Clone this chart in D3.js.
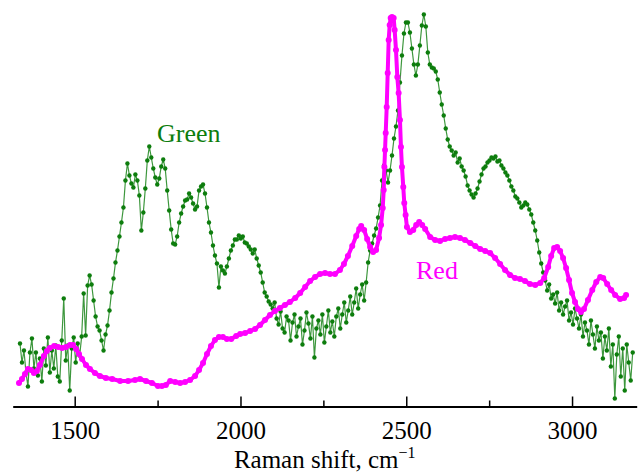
<!DOCTYPE html>
<html>
<head>
<meta charset="utf-8">
<script src="https://cdn.jsdelivr.net/npm/d3@7"></script>
<style>
  html, body { margin: 0; padding: 0; background: #fff; }
  svg { display: block; }
  svg text { font-family: 'Liberation Serif', 'Times New Roman', Times, 'DejaVu Serif', serif !important; }
</style>
</head>
<body>
<div id="chart"></div>
<script>
// ---------------- data ----------------
const majorTicks = [1500, 2000, 2500, 3000];
const minorTicks = [1750, 2250, 2750];
const xTitle = "Raman shift, cm";
const xTitleSup = "\u22121";
const seriesLabels = ["Green", "Red"];

const greenShift = [
1335,1341,1347,1353,1359,1365,1371,1377,1383,1389,
1395,1401,1407,1413,1419,1425,1431,1437,1443,1449,
1455,1461,1467,1473,1479,1485,1491,1497,1503,1509,
1515,1521,1527,1533,1539,1545,1551,1557,1563,1569,
1575,1581,1587,1593,1599,1605,1611,1617,1623,1629,
1635,1641,1647,1653,1659,1665,1671,1677,1683,1689,
1695,1701,1707,1713,1719,1725,1731,1737,1743,1749,
1755,1761,1767,1773,1779,1785,1791,1797,1803,1809,
1815,1821,1827,1833,1839,1845,1851,1857,1863,1869,
1875,1881,1887,1893,1899,1905,1911,1917,1923,1929,
1935,1941,1947,1953,1959,1965,1971,1977,1983,1989,
1995,2001,2007,2013,2019,2025,2031,2037,2043,2049,
2055,2061,2067,2073,2079,2085,2091,2097,2103,2109,
2115,2121,2127,2133,2139,2145,2151,2157,2163,2169,
2175,2181,2187,2193,2199,2205,2211,2217,2223,2229,
2235,2241,2247,2253,2259,2265,2271,2277,2283,2289,
2295,2301,2307,2313,2319,2325,2331,2337,2343,2349,
2355,2361,2367,2373,2379,2385,2391,2397,2403,2409,
2415,2421,2427,2433,2439,2445,2451,2457,2463,2469,
2475,2481,2487,2493,2499,2505,2511,2517,2523,2529,
2535,2541,2547,2553,2559,2565,2571,2577,2583,2589,
2595,2601,2607,2613,2619,2625,2631,2637,2643,2649,
2655,2661,2667,2673,2679,2685,2691,2697,2703,2709,
2715,2721,2727,2733,2739,2745,2751,2757,2763,2769,
2775,2781,2787,2793,2799,2805,2811,2817,2823,2829,
2835,2841,2847,2853,2859,2865,2871,2877,2883,2889,
2895,2901,2907,2913,2919,2925,2931,2937,2943,2949,
2955,2961,2967,2973,2979,2985,2991,2997,3003,3009,
3015,3021,3027,3033,3039,3045,3051,3057,3063,3069,
3075,3081,3087,3093,3099,3105,3111,3117,3123,3129,
3135,3141,3147,3153,3159,3165,3171,3177,3183
];
const greenIntensity = [
63,44,56,34,20,54,68,38,54,31,
48,25,58,41,69,34,56,38,61,30,
25,66,108,46,61,16,58,69,44,63,
51,70,113,71,121,131,122,106,90,80,
76,66,56,72,81,96,114,128,144,156,
170,184,199,226,243,231,223,219,232,226,
211,176,194,218,246,260,249,238,229,222,
228,240,247,238,216,196,177,163,162,170,
184,193,200,206,207,213,209,203,197,200,
216,220,222,213,199,184,174,161,151,143,
119,140,136,133,140,148,156,161,167,167,
171,168,170,164,163,160,157,153,157,148,
141,134,124,114,110,105,102,98,104,88,
82,95,78,74,90,86,66,84,92,70,
80,88,62,76,94,83,68,90,49,78,
86,72,92,64,80,96,74,85,70,90,
98,78,92,104,84,96,110,92,104,118,
98,112,122,106,124,144,156,163,171,178,
189,201,226,241,236,224,236,251,268,280,
296,324,351,373,384,384,374,358,342,331,
342,361,381,392,380,354,342,339,338,335,
327,314,302,291,278,267,260,256,251,254,
244,248,240,236,230,221,216,212,209,213,
218,225,232,238,240,244,246,249,248,250,
245,246,241,238,234,231,226,220,216,210,
208,204,199,201,204,202,197,192,184,176,
166,154,143,134,126,116,122,108,112,103,
114,96,104,92,100,106,86,94,82,98,
88,78,92,70,84,76,62,86,72,58,
80,66,74,48,70,56,78,40,62,8,
52,70,30,58,16,62,44,26,54
];

const redShift = [
1332,1341,1350,1359,1368,1377,1386,1395,1407,1416,1425,1438,1450,1462,1474,1486,1495,1504,1513,1522,
1534,1546,1561,1576,1594,1613,1637,1661,1682,1697,1715,1733,1751,1763,1775,1788,1803,1818,1833,1848,
1863,1875,1887,1899,1911,1923,1935,1947,1959,1972,1987,1999,2014,2029,2044,2059,2074,2089,2104,2119,
2134,2149,2165,2180,2195,2210,2225,2240,2255,2270,2285,2300,2312,2324,2337,2349,2358,2364,2373,2382,
2391,2400,2409,2418,2424,2429,2432,2434,2436,2438,2441,2444,2447,2450,2453,2457,2462,2465,2469,2473,
2477,2481,2484,2487,2491,2494,2498,2502,2511,2521,2530,2539,2548,2557,2572,2587,2602,2617,2632,2647,
2662,2677,2693,2708,2723,2738,2753,2768,2783,2798,2813,2828,2843,2858,2873,2889,2904,2916,2928,2937,
2946,2955,2964,2973,2982,2991,3000,3009,3018,3027,3036,3048,3061,3073,3085,3094,3106,3118,3130,3145,
3157,3163
];
const redIntensity = [
23.5,27.5,32.5,37.5,36.5,33.5,35.5,41.5,50.5,55.5,58.5,60.5,59.5,58.5,59.5,61.5,61.5,57.5,52.5,47.5,
41.5,37.5,33.5,30.5,28.5,27.5,25.5,25.5,26.5,27.5,25.5,23.5,20.5,20.5,21.5,25.5,24.5,23.5,24.5,26.5,
30.5,36.5,43.5,52.5,60.5,66.5,69.5,69.5,67.5,67.5,70.5,72.5,73.5,75.5,77.5,81.5,86.5,91.5,95.5,98.5,
101.5,104.5,108.5,113.5,119.5,125.5,129.5,132.5,133.5,132.5,132.5,136.5,142.5,150.5,160.5,170.5,177.5,180.5,176.5,167.5,
159.5,154.5,156.5,168.5,181.5,198.5,216.5,239.5,256.5,273.5,299.5,333.5,366.5,381.5,388.5,389.5,388.5,376.5,356.5,329.5,
313.5,286.5,259.5,239.5,219.5,203.5,191.5,179.5,174.5,176.5,181.5,184.5,181.5,177.5,169.5,166.5,165.5,167.5,168.5,169.5,
168.5,166.5,163.5,160.5,157.5,155.5,153.5,148.5,142.5,136.5,131.5,128.5,127.5,125.5,122.5,121.5,123.5,128.5,139.5,150.5,
158.5,159.5,155.5,148.5,138.5,126.5,113.5,104.5,97.5,94.5,97.5,106.5,116.5,124.5,129.5,128.5,122.5,116.5,111.5,107.5,
108.5,111.5
];

// ---------------- drawing ----------------
const W = 641, H = 474;
const FONT = "'Liberation Serif', 'Times New Roman', Times, 'DejaVu Serif', serif";
const svg = d3.select("#chart").append("svg").attr("width", W).attr("height", H)
  .style("font-family", FONT);

const x = d3.scaleLinear().domain([1313, 3195]).range([12.7, 636.7]);
const y = d3.scaleLinear().domain([0, 400]).range([406.5, 6.5]);

const green = d3.zip(greenShift, greenIntensity);
const red = d3.zip(redShift, redIntensity);

const line = d3.line().x(d => x(d[0])).y(d => y(d[1]));

const GREEN = "#0d7d0d";
const MAGENTA = "#ff00ff";

// green series
svg.append("path").datum(green)
  .attr("d", line).attr("fill", "none")
  .attr("stroke", GREEN).attr("stroke-opacity", 0.8).attr("stroke-width", 1.2);
svg.append("g").selectAll("circle").data(green).join("circle")
  .attr("cx", d => x(d[0])).attr("cy", d => y(d[1])).attr("r", 2.2)
  .attr("fill", GREEN);

// red (magenta) series
svg.append("path").datum(red)
  .attr("d", line).attr("fill", "none")
  .attr("stroke", MAGENTA).attr("stroke-width", 4)
  .attr("stroke-linejoin", "round").attr("stroke-linecap", "round");
svg.append("g").selectAll("circle").data(red).join("circle")
  .attr("cx", d => x(d[0])).attr("cy", d => y(d[1])).attr("r", 3)
  .attr("fill", MAGENTA);

// axis
const axisG = svg.append("g").attr("transform", `translate(0,${y(0)})`);
axisG.call(d3.axisBottom(x).tickValues(majorTicks).tickSizeInner(-10).tickSizeOuter(0).tickPadding(15).tickFormat(d3.format("d")));
axisG.attr("font-family", FONT);
axisG.select(".domain").attr("stroke", "#000").attr("stroke-width", 2);
axisG.selectAll(".tick line").attr("stroke", "#000").attr("stroke-width", 1.5);
axisG.selectAll(".tick text").attr("font-size", 25).attr("fill", "#000")
  .style("font-family", FONT);

const minorG = svg.append("g").attr("transform", `translate(0,${y(0)})`);
minorG.call(d3.axisBottom(x).tickValues(minorTicks).tickSizeInner(-6).tickSizeOuter(0).tickFormat(""));
minorG.select(".domain").remove();
minorG.selectAll(".tick line").attr("stroke", "#000").attr("stroke-width", 1.5);

// axis title
const t = svg.append("text")
  .attr("x", (x.range()[0] + x.range()[1]) / 2).attr("y", 468)
  .attr("text-anchor", "middle").attr("font-size", 25).attr("fill", "#000")
  .style("font-family", FONT);
t.append("tspan").text(xTitle);
t.append("tspan").attr("font-size", 16).attr("dy", -10).text(xTitleSup);

// series labels
svg.append("text").attr("x", 157).attr("y", 142).attr("font-size", 26)
  .attr("fill", GREEN).style("font-family", FONT).text(seriesLabels[0]);
svg.append("text").attr("x", 416).attr("y", 279).attr("font-size", 26)
  .attr("fill", MAGENTA).style("font-family", FONT).text(seriesLabels[1]);
</script>
</body>
</html>
